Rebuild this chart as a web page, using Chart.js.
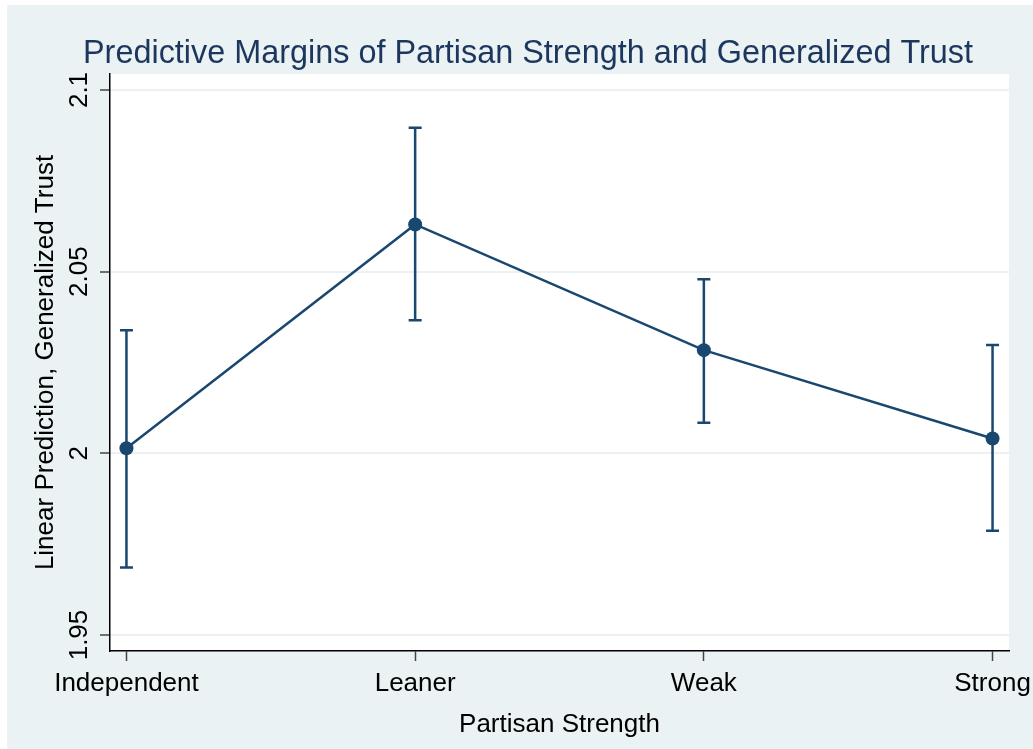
<!DOCTYPE html>
<html>
<head>
<meta charset="utf-8">
<script src="https://cdn.jsdelivr.net/npm/chart.js@4"></script>
<style>
  html, body { margin: 0; padding: 0; background: #ffffff; }
  #wrap { width: 1033px; height: 749px; }
</style>
</head>
<body>
<div id="wrap"><canvas id="marginsChart"></canvas></div>
<script>
// data
const categories = ['Independent', 'Leaner', 'Weak', 'Strong'];
const margins = [2.0014, 2.0630, 2.0284, 2.0041];
const ciLower = [1.9686, 2.0366, 2.0084, 1.9787];
const ciUpper = [2.0339, 2.0896, 2.0479, 2.0298];
const yTicks = [1.95, 2, 2.05, 2.1];
const chartTitle = 'Predictive Margins of Partisan Strength and Generalized Trust';

const navy = '#1a476f';
const bgBlue = '#eaf2f3';
const fontFamily = '"Liberation Sans", Arial, sans-serif';

// light blue graph region behind everything
const backgroundPlugin = {
    id: 'stataBackground',
    beforeDraw(chart) {
        const ctx = chart.ctx;
        const area = chart.chartArea;
        ctx.save();
        ctx.fillStyle = bgBlue;
        ctx.fillRect(7, 5, chart.width - 7, chart.height - 5);
        ctx.fillStyle = '#ffffff';
        ctx.fillRect(area.left, area.top, area.right - area.left, area.bottom - area.top);
        ctx.restore();
    }
};

// confidence interval whiskers with caps
const errorBarPlugin = {
    id: 'errorBars',
    beforeDatasetsDraw(chart) {
        const ctx = chart.ctx;
        const x = chart.scales.x;
        const y = chart.scales.y;
        ctx.save();
        ctx.strokeStyle = navy;
        ctx.lineWidth = 2.5;
        categories.forEach((c, i) => {
            const px = x.getPixelForValue(i);
            const top = y.getPixelForValue(ciUpper[i]);
            const bottom = y.getPixelForValue(ciLower[i]);
            ctx.beginPath();
            ctx.moveTo(px, top);
            ctx.lineTo(px, bottom);
            ctx.moveTo(px - 6.5, top);
            ctx.lineTo(px + 6.5, top);
            ctx.moveTo(px - 6.5, bottom);
            ctx.lineTo(px + 6.5, bottom);
            ctx.stroke();
        });
        ctx.restore();
    }
};

// vertical y tick labels and the title, as Stata draws them
const textPlugin = {
    id: 'stataText',
    afterDraw(chart) {
        const ctx = chart.ctx;
        const y = chart.scales.y;
        ctx.save();
        ctx.fillStyle = '#000000';
        ctx.font = '26px ' + fontFamily;
        ctx.textAlign = 'center';
        ctx.textBaseline = 'middle';
        yTicks.forEach(v => {
            const py = y.getPixelForValue(v);
            ctx.save();
            ctx.translate(80, py);
            ctx.rotate(-Math.PI / 2);
            ctx.fillText(String(v), 0, 0);
            ctx.restore();
        });

        ctx.fillStyle = '#1c365e';
        ctx.font = '32.4px ' + fontFamily;
        ctx.fillText(chartTitle, 528, 54);
        ctx.restore();
    }
};

const ctx = document.getElementById('marginsChart').getContext('2d');

new Chart(ctx, {
    type: 'line',
    data: {
        datasets: [{
            label: 'Linear Prediction',
            data: margins.map((m, i) => ({ x: i, y: m })),
            borderColor: navy,
            backgroundColor: navy,
            borderWidth: 2.5,
            pointRadius: 7,
            pointHoverRadius: 7,
            pointBorderWidth: 0,
            tension: 0,
            fill: false
        }]
    },
    options: {
        responsive: true,
        maintainAspectRatio: false,
        animation: false,
        layout: { padding: { left: 0, right: 24, top: 74, bottom: 0 } },
        plugins: {
            legend: { display: false },
            tooltip: { enabled: false },
            title: { display: false }
        },
        scales: {
            x: {
                type: 'linear',
                min: -0.057,
                max: 3.057,
                afterBuildTicks: scale => {
                    scale.ticks = categories.map((c, i) => ({ value: i }));
                },
                afterFit: scale => {
                    scale.height = 98;
                    scale.paddingLeft = 0;
                    scale.paddingRight = 0;
                },
                ticks: {
                    callback: v => categories[v],
                    color: '#000000',
                    font: { family: fontFamily, size: 26 },
                    padding: 7,
                    maxRotation: 0,
                    autoSkip: false
                },
                grid: {
                    drawOnChartArea: false,
                    tickLength: 10,
                    tickColor: '#444444',
                    tickWidth: 1.5
                },
                border: { color: '#000000', width: 1.5 },
                title: {
                    display: true,
                    text: 'Partisan Strength',
                    color: '#000000',
                    font: { family: fontFamily, size: 26 },
                    padding: { top: 0, bottom: 9 }
                }
            },
            y: {
                min: 1.9456,
                max: 2.1044,
                afterBuildTicks: scale => {
                    scale.ticks = yTicks.map(v => ({ value: v }));
                },
                afterFit: scale => {
                    scale.width = 110;
                    scale.paddingTop = 0;
                    scale.paddingBottom = 0;
                },
                ticks: { display: false },
                grid: {
                    color: bgBlue,
                    lineWidth: 2,
                    tickLength: 10,
                    tickColor: '#444444',
                    tickWidth: 1.5
                },
                border: { color: '#000000', width: 1.5 },
                title: {
                    display: true,
                    text: 'Linear Prediction, Generalized Trust',
                    color: '#000000',
                    font: { family: fontFamily, size: 26 },
                    padding: { top: 30, bottom: 0 }
                }
            }
        }
    },
    plugins: [backgroundPlugin, errorBarPlugin, textPlugin]
});
</script>
</body>
</html>
